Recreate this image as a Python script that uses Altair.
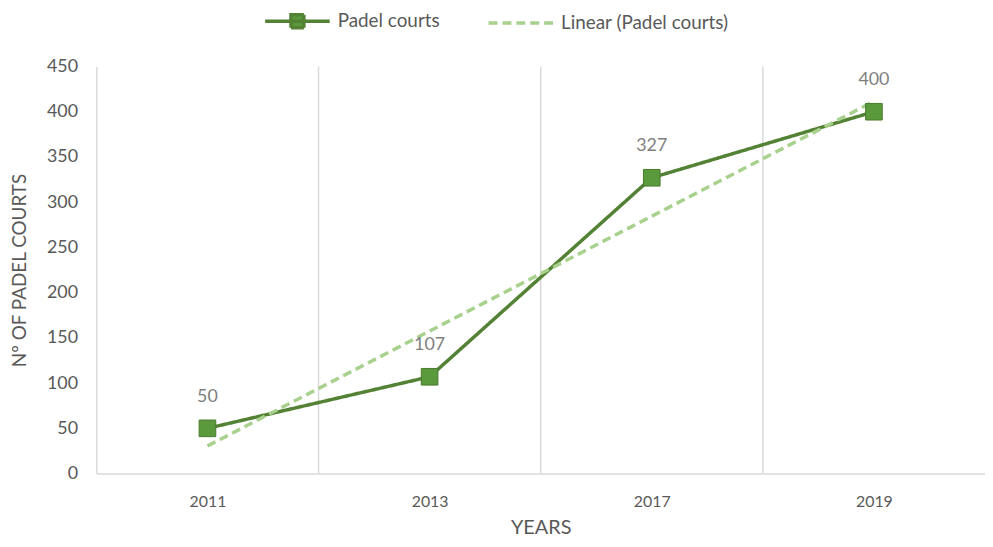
import json
import altair as alt
import pandas as pd

# ---- data ----
years = ["2011", "2013", "2017", "2019"]
courts = [50, 107, 327, 400]
series_name = "Padel courts"
trend_name = "Linear (Padel courts)"
y_ticks = [0, 50, 100, 150, 200, 250, 300, 350, 400, 450]

idx = list(range(1, len(years) + 1))
df = pd.DataFrame({"idx": idx, "year": years, "courts": courts, "series": series_name})
bounds = pd.DataFrame({"b": [i + 0.5 for i in idx[:-1]]})

DARK = "#548235"
MARK_FILL = "#5B9A3C"
MARK_STROKE = "#4A7A2C"
LIGHT = "#A9D18E"
GRID = "#D9D9D9"
TXT = "#595959"
LBL = "#7F7F7F"
FONT = "Lato"

xscale = alt.Scale(domain=[0.5, len(years) + 0.5], nice=False, zero=False)
yscale = alt.Scale(domain=[0, 450], nice=False, zero=True)

label_expr = json.dumps(years) + "[datum.value - 1]"

x_axis = alt.Axis(
    values=idx, labelExpr=label_expr, grid=False, ticks=False,
    domainColor=GRID, domainWidth=1.5,
    labelFont=FONT, labelFontSize=16, labelColor=TXT, labelPadding=20,
    title="YEARS", titleFont=FONT, titleFontSize=20, titleFontWeight="normal",
    titleColor=TXT, titleBaseline="middle", titleY=54,
)
y_axis = alt.Axis(
    values=y_ticks, grid=False, ticks=False,
    domainColor=GRID, domainWidth=1.5,
    labelFont=FONT, labelFontSize=18, labelColor=TXT, labelPadding=19,
    title="Nº OF PADEL COURTS", titleFont=FONT, titleFontSize=19,
    titleFontWeight="normal", titleColor=TXT, titleAngle=-90,
    titleX=-77, titleY=205, titleAlign="center", titleBaseline="middle",
)

def X(field):
    return alt.X(field, type="quantitative", scale=xscale, axis=x_axis)

def Y(field):
    return alt.Y(field, type="quantitative", scale=yscale, axis=y_axis)

domain = [series_name, trend_name]
color_scale = alt.Scale(domain=domain, range=[DARK, LIGHT])
dash_scale = alt.Scale(domain=domain, range=[[1, 0], [9, 5]])
shape_scale = alt.Scale(domain=domain, range=["M-1,0H1M-0.2,-0.2H0.2V0.2H-0.2Z", "M-1,0H1"])
legend = alt.Legend(
    title=None, orient="none", direction="horizontal", legendX=168, legendY=-80,
    symbolSize=4225, symbolStrokeWidth=3.5, symbolOpacity=1,
    labelFont=FONT, labelFontSize=19, labelColor=TXT, labelOffset=6,
    labelLimit=400, columnPadding=42,
)

def C():
    return alt.Color("series:N", scale=color_scale, legend=legend)

def D():
    return alt.StrokeDash("series:N", scale=dash_scale, legend=legend)

base = alt.Chart(df)

# legend-only layer: draws nothing, carries the legend symbols
legend_layer = base.transform_filter("false").mark_point(
    filled=False, fill=MARK_FILL, strokeWidth=3.5, opacity=1
).encode(
    x=X("idx"), y=Y("courts"), color=C(), strokeDash=D(),
    shape=alt.Shape("series:N", scale=shape_scale, legend=legend),
)

grid = alt.Chart(bounds).mark_rule(color=GRID, strokeWidth=1.5).encode(x=X("b"))

line = base.mark_line(strokeWidth=3.5).encode(
    x=X("idx"), y=Y("courts"), color=C(), strokeDash=D(),
)

trend = base.transform_regression("idx", "courts", method="linear").transform_calculate(
    series="'" + trend_name + "'"
).mark_line(strokeWidth=3.5).encode(
    x=X("idx"), y=Y("courts"), color=C(), strokeDash=D(),
)

points = base.mark_square(size=280, color=MARK_FILL, stroke=MARK_STROKE, strokeWidth=1, opacity=1).encode(
    x=X("idx"), y=Y("courts"),
)

labels = base.mark_text(dy=-32, font=FONT, fontSize=18, color=LBL).encode(
    x=X("idx"), y=Y("courts"), text="courts:Q",
)

chart = alt.layer(legend_layer, grid, line, trend, points, labels).properties(
    width=895, height=410,
    autosize=alt.AutoSizeParams(type="none"),
    padding={"left": 89, "top": 57, "right": 0, "bottom": 64},
    background="white",
).configure_view(stroke=None)

chart.save("out.html", embed_options={"renderer": "svg", "actions": False})
